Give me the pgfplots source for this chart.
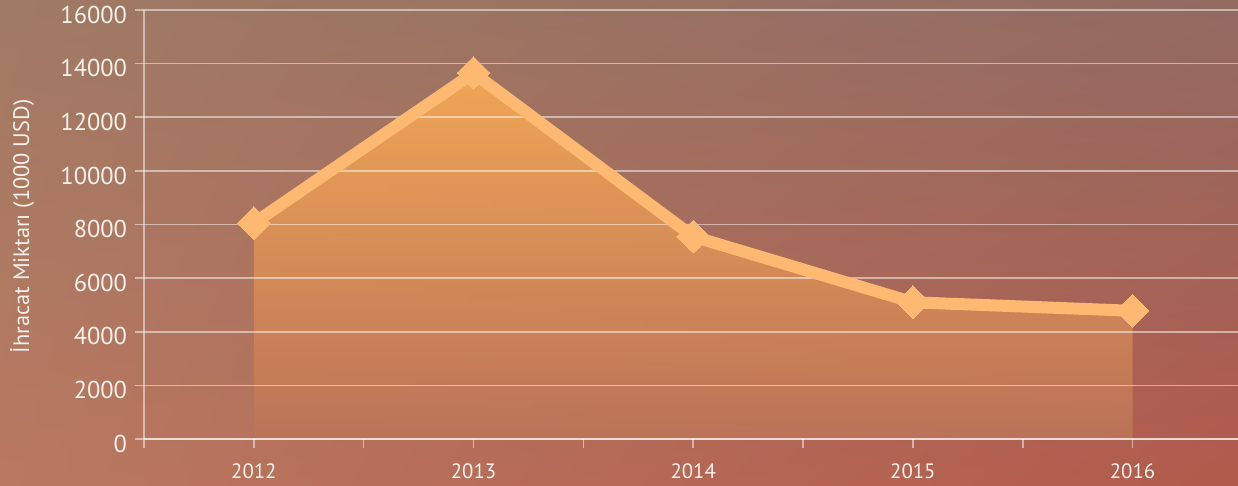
\documentclass[border=0pt]{standalone}
\usepackage{fontspec}
\setmainfont{PT Sans}
\usepackage{pgfplots}
\pgfplotsset{compat=1.18}
\usetikzlibrary{shadings}

\definecolor{bgul}{HTML}{A07A64}
\definecolor{bgur}{HTML}{926A62}
\definecolor{bgll}{HTML}{BA7860}
\definecolor{bglr}{HTML}{B25A4C}
\definecolor{linec}{HTML}{FDB871}
\definecolor{filltop}{HTML}{F7AA55}
\definecolor{fillbot}{HTML}{BC7459}
\definecolor{txt}{HTML}{F8F0EA}

\begin{document}
\begin{tikzpicture}
\begin{axis}[
  name=ax,
  set layers,
  at={(0,0)}, anchor=south west,
  scale only axis, width=547pt, height=214.5pt,
  xmin=2011.5, xmax=2016.48, ymin=0, ymax=16000,
  clip=false,
  axis x line*=bottom, axis y line*=left,
  axis line style={draw=white, draw opacity=0.5, line width=0.8pt},
  xtick={2012,2013,2014,2015,2016},
  minor xtick={2011.5,2012.5,2013.5,2014.5,2015.5},
  ytick={0,2000,...,16000},
  ymajorgrids,
  grid style={draw=white, draw opacity=0.5, line width=0.8pt},
  tick align=outside,
  major tick length=4.5pt, minor tick length=4.5pt,
  tick style={draw=white, draw opacity=0.5, line width=0.8pt},
  scaled y ticks=false,
  /pgf/number format/1000 sep={},
  /pgf/number format/assume math mode=true,
  y tick label style={font=\fontsize{12.2}{14}\selectfont, text=txt, xshift=-0.5pt, yshift=-2.3pt},
  x tick label style={font=\fontsize{10.4}{12}\selectfont, text=txt, yshift=-4.5pt},
  every axis y label/.style={at={(axis description cs:0,0.5)}, xshift=-61pt,
    yshift=-1pt, rotate=90, anchor=center, font=\fontsize{11.2}{13}\selectfont, text=txt},
  ylabel={İhracat Miktarı (1000 USD)},
]
\begin{pgfonlayer}{axis background}
\shade[upper left=bgul, upper right=bgur, lower left=bgll, lower right=bglr]
  ([shift={(-72pt,-23.5pt)}]rel axis cs:0,0) rectangle ([shift={(0pt,5pt)}]rel axis cs:1,1);
\end{pgfonlayer}

\addplot[on layer=axis background, draw=none, top color=filltop,
         bottom color=fillbot, fill opacity=0.92]
  coordinates {(2012,8050) (2013,13650) (2014,7550) (2015,5100) (2016,4780)}
  \closedcycle;

\addplot[color=linec, line width=6pt, mark=square*, mark size=5.8pt,
         mark options={rotate=45, fill=linec, draw=linec, line width=0pt}]
  coordinates {(2012,8050) (2013,13650) (2014,7550) (2015,5100) (2016,4780)};
\end{axis}
\pgfresetboundingbox
\path[use as bounding box] ([shift={(-72pt,-23.5pt)}]ax.south west)
  rectangle ([shift={(0pt,5pt)}]ax.north east);
\end{tikzpicture}
\end{document}
